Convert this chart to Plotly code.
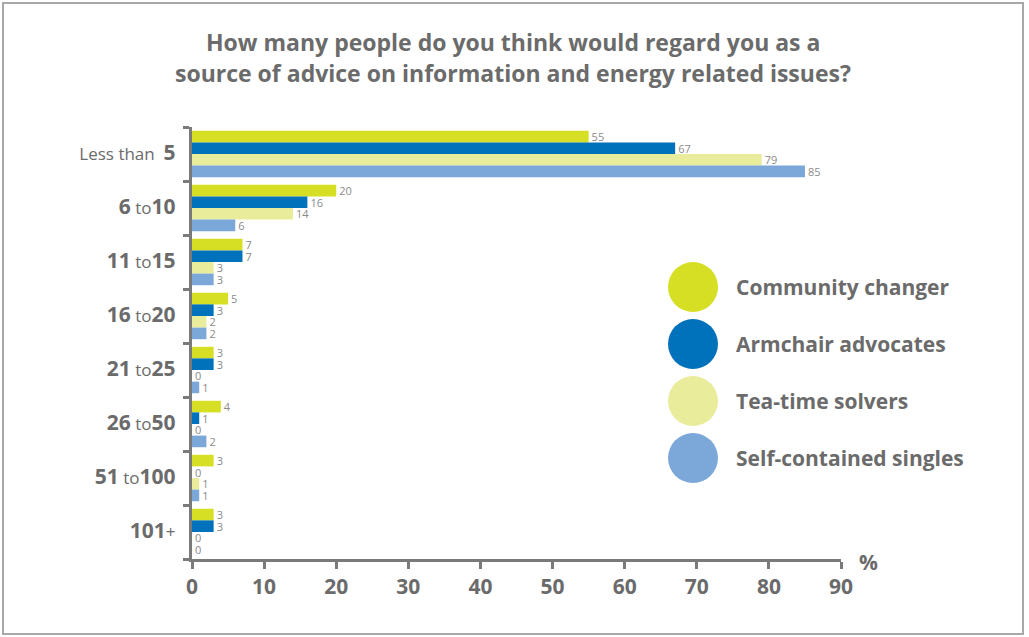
import plotly.graph_objects as go

# Survey responses (% of each segment)
categories = ["Less than 5", "6 to 10", "11 to 15", "16 to 20",
              "21 to 25", "26 to 50", "51 to 100", "101+"]
tick_labels = [
    "Less than  <span style='font-size:21px'><b>5</b></span>",
    "<span style='font-size:21px'><b>6</b></span> to<span style='font-size:21px'><b>10</b></span>",
    "<span style='font-size:21px'><b>11</b></span> to<span style='font-size:21px'><b>15</b></span>",
    "<span style='font-size:21px'><b>16</b></span> to<span style='font-size:21px'><b>20</b></span>",
    "<span style='font-size:21px'><b>21</b></span> to<span style='font-size:21px'><b>25</b></span>",
    "<span style='font-size:21px'><b>26</b></span> to<span style='font-size:21px'><b>50</b></span>",
    "<span style='font-size:21px'><b>51</b></span> to<span style='font-size:21px'><b>100</b></span>",
    "<span style='font-size:21px'><b>101</b></span>+",
]
series_names = ["Community changer", "Armchair advocates",
                "Tea-time solvers", "Self-contained singles"]
community_changer = [55, 20, 7, 5, 3, 4, 3, 3]
armchair_advocates = [67, 16, 7, 3, 3, 1, 0, 3]
tea_time_solvers = [79, 14, 3, 2, 0, 0, 1, 0]
self_contained_singles = [85, 6, 3, 2, 1, 2, 1, 0]
series_values = [community_changer, armchair_advocates,
                 tea_time_solvers, self_contained_singles]
colors = ["#d6df23", "#0071bb", "#e9ec9b", "#7ca7d9"]
x_ticks = [0, 10, 20, 30, 40, 50, 60, 70, 80, 90]

W, H = 1029, 637
ML, MR, MT, MB = 192, 188, 127, 78
PW, PH = W - ML - MR, H - MT - MB


def px_x(px):
    return (px - ML) / PW


def px_y(py):
    return (H - MB - py) / PH


GRAY = "#6b6b6b"
AXIS = "#7a7a7a"
FONT = "Open Sans"

fig = go.Figure()
for name, vals, col in zip(series_names, series_values, colors):
    fig.add_trace(go.Bar(
        y=categories, x=vals, name=name, orientation="h",
        marker=dict(color=col, line=dict(width=0)),
        text=[str(v) for v in vals], textposition="outside",
        textfont=dict(family=FONT, size=11, color="#8a8a8a"),
        constraintext="none", cliponaxis=False, showlegend=False,
    ))

# Legend: large colour discs with bold names
shapes = []
annotations = []
legend_y = [287, 344, 401, 458]
for name, col, py in zip(series_names, colors, legend_y):
    shapes.append(dict(
        type="circle", xref="paper", yref="paper",
        xsizemode="pixel", ysizemode="pixel",
        xanchor=px_x(693), yanchor=px_y(py),
        x0=-25, x1=25, y0=-25, y1=25,
        fillcolor=col, line=dict(width=0), layer="above",
    ))
    annotations.append(dict(
        text="<b>%s</b>" % name, xref="paper", yref="paper",
        x=px_x(734), y=px_y(py), xanchor="left", yanchor="middle",
        showarrow=False, font=dict(family=FONT, size=21, color=GRAY),
    ))

# Outer frame
shapes.append(dict(
    type="rect", xref="paper", yref="paper",
    x0=px_x(3), x1=px_x(1023), y0=px_y(634), y1=px_y(3),
    line=dict(color="#a8a8a8", width=2), fillcolor="rgba(0,0,0,0)",
    layer="below",
))

title_lines = ["How many people do you think would regard you as a",
               "source of advice on information and energy related issues?"]
for line, py in zip(title_lines, [42, 73]):
    annotations.append(dict(
        text="<b>%s</b>" % line, xref="paper", yref="paper",
        x=px_x(513), y=px_y(py), xanchor="center", yanchor="middle",
        showarrow=False, font=dict(family=FONT, size=23, color=GRAY),
    ))

annotations.append(dict(
    text="<b>%</b>", xref="paper", yref="paper",
    x=px_x(868), y=px_y(562), xanchor="center", yanchor="middle",
    showarrow=False, font=dict(family=FONT, size=21, color=GRAY),
))

fig.update_layout(
    width=W, height=H,
    margin=dict(l=ML, r=MR, t=MT, b=MB, pad=0),
    paper_bgcolor="white", plot_bgcolor="white",
    barmode="group", bargap=0.14, bargroupgap=0,
    shapes=shapes, annotations=annotations,
    font=dict(family=FONT, color=GRAY),
    xaxis=dict(
        range=[0, 90], tickvals=x_ticks, ticktext=[str(t) for t in x_ticks],
        showgrid=False, zeroline=False,
        showline=True, linecolor=AXIS, linewidth=3,
        ticks="outside", ticklen=7, tickwidth=3, tickcolor=AXIS,
        tickfont=dict(family=FONT, size=21, color=GRAY, weight="bold"),
        fixedrange=True,
    ),
    yaxis=dict(
        categoryorder="array", categoryarray=categories,
        autorange="reversed",
        tickvals=categories, ticktext=tick_labels,
        tickson="boundaries",
        showgrid=False, zeroline=False,
        showline=True, linecolor=AXIS, linewidth=3,
        ticks="outside", ticklen=6, tickwidth=3, tickcolor=AXIS,
        tickfont=dict(family=FONT, size=17, color=GRAY),
        ticklabelstandoff=10,
        fixedrange=True,
    ),
)

fig.write_html("out.html")
